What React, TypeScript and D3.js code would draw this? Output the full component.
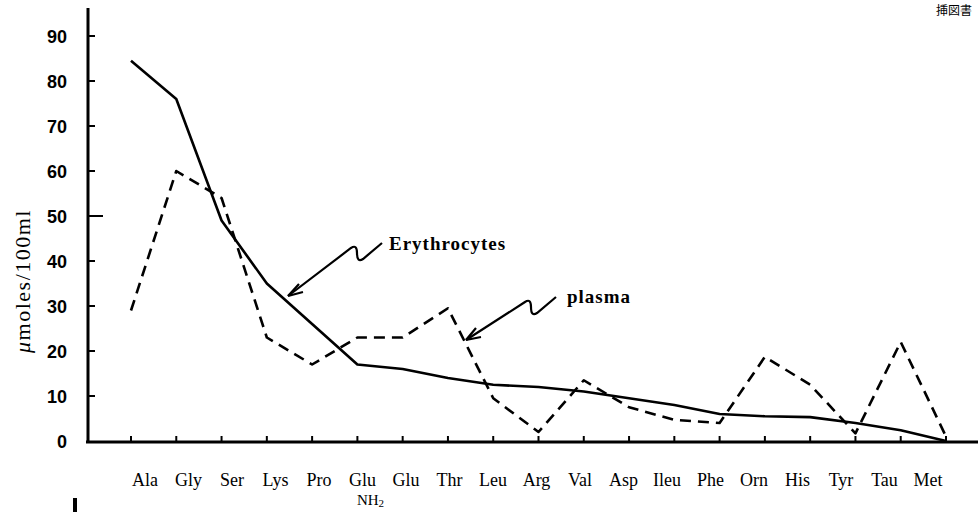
import React from 'react';
import * as d3 from 'd3';

// amino acids along the x axis (the printed "Glu NH2" is the first Glu)
const aminoAcids = ['Ala', 'Gly', 'Ser', 'Lys', 'Pro', 'GluNH2', 'Glu', 'Thr', 'Leu', 'Arg', 'Val', 'Asp', 'Ileu', 'Phe', 'Orn', 'His', 'Tyr', 'Tau', 'Met'];
const erythrocytes = [84.5, 76, 49, 35, 26, 17, 16, 14, 12.5, 12, 11, 9.5, 8, 6, 5.5, 5.3, 4, 2.4, 0];
const plasma = [29, 60, 54, 23, 17, 23, 23, 29.5, 9.5, 2, 13.5, 7.5, 4.7, 4, 18.7, 12.5, 1.7, 22, 1];
const yTicks = [0, 10, 20, 30, 40, 50, 60, 70, 80, 90];

const W = 980;
const H = 512;

const App = () => {
    const x = d3.scalePoint<string>().domain(aminoAcids).range([131, 946]);
    // the printed labels are typeset on their own, slightly off the ticks
    const xLabel = d3.scalePoint<string>().domain(aminoAcids).range([145, 928]);
    const y = d3.scaleLinear().domain([0, 90]).range([441, 36]);

    const line = d3.line<number>()
        .x((d, i) => x(aminoAcids[i]) as number)
        .y(d => y(d));

    const serif = '"Liberation Serif", "DejaVu Serif", serif';

    return (
        <svg width={W} height={H} style={{ position: 'absolute', left: 0, top: 0, background: '#fff' }}>
            {/* y axis */}
            <line x1={88} y1={8} x2={88} y2={443} stroke="#000" strokeWidth={3} />
            {yTicks.map(t => (
                <g key={t}>
                    {t > 0 && <line x1={88} x2={t === 50 ? 103 : 95} y1={y(t)} y2={y(t)} stroke="#000" strokeWidth={2} />}
                    <text x={67} y={y(t) + 7} textAnchor="end" fontSize={18} fontWeight="bold"
                        fontFamily='"Liberation Sans Narrow", "Liberation Sans", Arial, sans-serif'>{t}</text>
                </g>
            ))}
            <text transform="translate(30,281) rotate(-90)" textAnchor="middle" fontSize={22} letterSpacing={1.5} fontFamily={serif}>
                <tspan fontStyle="italic">μ</tspan>moles/100ml
            </text>

            {/* x axis */}
            <line x1={86} y1={442} x2={978} y2={442} stroke="#000" strokeWidth={3} />
            {aminoAcids.map(a => (
                <line key={a} x1={x(a)} x2={x(a)} y1={442} y2={436} stroke="#000" strokeWidth={2} />
            ))}
            {aminoAcids.map(a => (
                <text key={a} x={xLabel(a)} y={486} textAnchor="middle" fontSize={18} fontFamily={serif}>
                    {a === 'GluNH2' ? 'Glu' : a}
                </text>
            ))}
            <text x={(xLabel('GluNH2') as number) + 8} y={505} textAnchor="middle" fontSize={15} fontFamily={serif}>
                NH<tspan fontSize={11} dy={2}>2</tspan>
            </text>

            {/* series */}
            <path d={line(erythrocytes) ?? ''} fill="none" stroke="#000" strokeWidth={2.6} strokeLinejoin="round" />
            <path d={line(plasma) ?? ''} fill="none" stroke="#000" strokeWidth={2.6} strokeDasharray="11 7" strokeLinejoin="round" />

            {/* annotations */}
            <path d="M382,243 L363,259 Q357,263 357,253 Q357,244 351,248 L288,296" fill="none" stroke="#000" strokeWidth={2.2} />
            <path d="M288,296 L299,284 M288,296 L303,292" fill="none" stroke="#000" strokeWidth={2.2} />
            <text x={389} y={250} fontSize={19} letterSpacing={1} fontWeight="bold" fontFamily={serif}>Erythrocytes</text>

            <path d="M556,297 L537,313 Q531,317 531,307 Q531,298 525,302 L466,340" fill="none" stroke="#000" strokeWidth={2.2} />
            <path d="M466,340 L476,328 M466,340 L481,337" fill="none" stroke="#000" strokeWidth={2.2} />
            <text x={567} y={303} fontSize={19} letterSpacing={1} fontWeight="bold" fontFamily={serif}>plasma</text>

            {/* bits at the edges of the scan */}
            <text x={972} y={15} textAnchor="end" fontSize={12} fontFamily='"Noto Sans CJK JP", sans-serif'>挿図書</text>
            <rect x={73} y={498} width={4} height={14} fill="#000" />
        </svg>
    );
};

export default App;
